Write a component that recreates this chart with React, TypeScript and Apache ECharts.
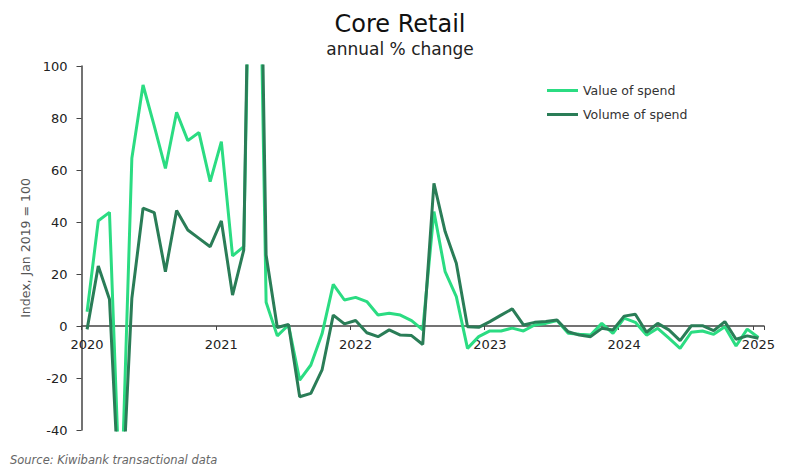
import React, { useEffect, useRef } from "react";
import * as echarts from "echarts";

const years = ["2020", "2021", "2022", "2023", "2024"];
const monthNames = ["Jan", "Feb", "Mar", "Apr", "May", "Jun", "Jul", "Aug", "Sep", "Oct", "Nov", "Dec"];
const categories: string[] = [];
years.forEach((y) => monthNames.forEach((m) => categories.push(`${m} ${y}`)));
categories.push("Jan 2025");

const valueOfSpend = [
  5.5, 40.5, 43.7, -75, 64.5, 92.7, 77, 60.6, 82.2, 71.3, 74.4, 55.5,
  70.9, 27.0, 30.5, 260, 9.1, -3.8, 0.4, -20.8, -15, -3, 16.0, 10.0,
  11.0, 9.4, 4.2, 4.9, 4.2, 2.1, -1.5, 44.0, 20.9, 11.3, -8.6, -4.1,
  -1.9, -1.9, -0.8, -1.9, 0.4, 1.0, 2.1, -2.8, -3.2, -3.5, 1.0, -2.8,
  3.0, 1.4, -3.5, -0.9, -4.7, -8.6, -2.4, -1.9, -3.2, -0.3, -7.7, -1.2,
  -4.4,
];

const volumeOfSpend = [
  -1.3, 23.1, 10.3, -78, 10.6, 45.3, 43.6, 20.9, 44.4, 36.9, 33.7, 30.5,
  40.4, 11.9, 29.2, 290, 27.3, -0.6, 0.6, -27.2, -25.9, -16.9, 4.2, 0.8,
  2.1, -2.6, -4.1, -1.5, -3.5, -3.7, -7.1, 54.9, 36.3, 24.1, -0.3, -0.5,
  1.7, 4.2, 6.6, 0.4, 1.4, 1.7, 2.3, -2.2, -3.5, -4.1, -0.9, -1.5,
  3.8, 4.5, -2.4, 1.0, -1.5, -5.6, 0.1, 0.1, -1.8, 1.7, -5.1, -3.8,
  -4.7,
];

const FONT = "'DejaVu Sans', 'Noto Sans', sans-serif";

export default function App() {
  const ref = useRef<HTMLDivElement>(null);
  useEffect(() => {
    if (!ref.current) return;
    const chart = echarts.init(ref.current, undefined, { renderer: "svg" });
    chart.setOption({
      animation: false,
      backgroundColor: "#ffffff",
      textStyle: { fontFamily: FONT },
      title: {
        text: "Core Retail",
        subtext: "annual % change",
        left: "center",
        top: 7,
        itemGap: 4,
        textStyle: { fontFamily: FONT, fontSize: 24, fontWeight: "normal", color: "#111" },
        subtextStyle: { fontFamily: FONT, fontSize: 17, color: "#222" },
      },
      legend: {
        orient: "vertical",
        left: 542,
        top: 79,
        itemGap: 11,
        itemWidth: 31,
        itemHeight: 3,
        icon: "rect",
        textStyle: { fontFamily: FONT, fontSize: 12.5, color: "#333" },
        data: ["Value of spend", "Volume of spend"],
      },
      grid: { left: 81.5, right: 36, top: 66, bottom: 46, containLabel: false },
      xAxis: {
        type: "category",
        data: categories,
        boundaryGap: true,
        offset: -104,
        axisLine: { onZero: false, lineStyle: { color: "#444", width: 1.5 } },
        axisTick: { show: true, interval: 11, length: 4, inside: false, lineStyle: { color: "#444" } },
        axisLabel: {
          interval: 11,
          margin: 12,
          fontFamily: FONT,
          fontSize: 13,
          color: "#222",
          formatter: (v: string) => v.split(" ")[1],
        },
        splitLine: { show: false },
      },
      yAxis: {
        type: "value",
        min: -40,
        max: 100,
        interval: 20,
        name: "Index, Jan 2019 = 100",
        nameLocation: "middle",
        nameGap: 46,
        nameTextStyle: { fontFamily: FONT, fontSize: 12.5, color: "#555" },
        axisLine: { show: true, lineStyle: { color: "#444", width: 1.5 } },
        axisTick: { show: true, length: 5, lineStyle: { color: "#444" } },
        axisLabel: { margin: 14, fontFamily: FONT, fontSize: 13, color: "#222" },
        splitLine: { show: false },
      },
      series: [
        {
          name: "Value of spend",
          type: "line",
          data: valueOfSpend,
          showSymbol: false,
          symbol: "none",
          lineStyle: { color: "#2bdc82", width: 3 },
          itemStyle: { color: "#2bdc82" },
          clip: true,
        },
        {
          name: "Volume of spend",
          type: "line",
          data: volumeOfSpend,
          showSymbol: false,
          symbol: "none",
          lineStyle: { color: "#2a7d57", width: 3 },
          itemStyle: { color: "#2a7d57" },
          clip: true,
        },
      ],
      graphic: [
        {
          type: "text",
          left: 10,
          top: 454,
          style: {
            text: "Source: Kiwibank transactional data",
            fontFamily: FONT,
            fontSize: 11.5,
            fontStyle: "italic",
            fill: "#666",
          },
        },
      ],
    });
    return () => chart.dispose();
  }, []);
  return (
    <div
      ref={ref}
      style={{ position: "absolute", left: 0, top: 0, width: 800, height: 476, background: "#fff" }}
    />
  );
}
